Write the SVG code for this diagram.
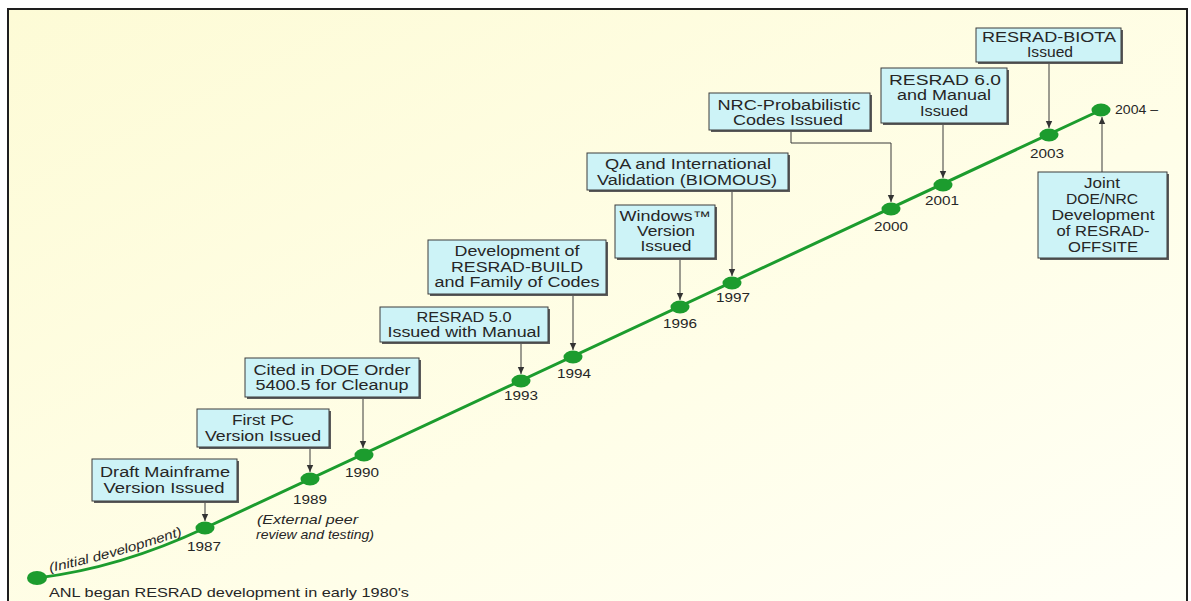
<svg xmlns="http://www.w3.org/2000/svg" width="1191" height="601" viewBox="0 0 1191 601">
<defs>
<linearGradient id="bg" x1="0" y1="0" x2="1" y2="1">
<stop offset="0" stop-color="#fdfbd6"/>
<stop offset="0.6" stop-color="#fffee8"/>
<stop offset="1" stop-color="#fffff6"/>
</linearGradient>
<marker id="arr" markerUnits="userSpaceOnUse" markerWidth="8" markerHeight="8" refX="7" refY="4" orient="auto">
<path d="M0,0.8 L7,4 L0,7.2 Z" fill="#333"/>
</marker>
<style>
.box{fill:#cdf3f7;stroke:#3c3c3c;stroke-width:1}
.sh{fill:#5a5a5a}
.t{font-family:"Liberation Sans",Arial,sans-serif;font-size:14px;fill:#262626;text-anchor:middle}
.y{font-family:"Liberation Sans",Arial,sans-serif;font-size:13px;fill:#262626;text-anchor:middle}
.it{font-family:"Liberation Sans",Arial,sans-serif;font-size:13px;font-style:italic;fill:#262626}
.c{fill:none;stroke:#3a3a3a;stroke-width:1;marker-end:url(#arr)}
.dot{fill:#1c9c2e}
</style>
</defs>
<rect x="0" y="0" width="1191" height="601" fill="#ffffff"/>
<rect x="8" y="9" width="1179" height="592" fill="url(#bg)"/>
<path d="M8,601 V9 H1187 V601" fill="none" stroke="#1e1e1e" stroke-width="2"/>

<g id="timeline">
<path id="tl" d="M37,578 Q120,568 205,528 L1101,110" fill="none" stroke="#1c9c2e" stroke-width="3"/>
<path id="initPath" d="M50,572 Q110,560 186,534" fill="none"/>
<text class="it"><textPath href="#initPath" textLength="138" lengthAdjust="spacingAndGlyphs">(Initial development)</textPath></text>
<text class="it" x="49" y="597" style="font-style:normal;font-size:13.5px" textLength="360" lengthAdjust="spacingAndGlyphs">ANL began RESRAD development in early 1980's</text>
<text class="it" x="257" y="524" textLength="101" lengthAdjust="spacingAndGlyphs">(External peer</text>
<text class="it" x="256" y="539" textLength="118" lengthAdjust="spacingAndGlyphs">review and testing)</text>
</g>

<g id="connectors">
<line class="c" x1="205" y1="501" x2="205" y2="521"/>
<line class="c" x1="310" y1="447" x2="310" y2="472"/>
<line class="c" x1="363" y1="397" x2="363" y2="448"/>
<line class="c" x1="521" y1="342" x2="521" y2="374"/>
<line class="c" x1="573" y1="294" x2="573" y2="350"/>
<line class="c" x1="680" y1="258" x2="680" y2="300"/>
<line class="c" x1="732" y1="190" x2="732" y2="276"/>
<path class="c" d="M791,130 V143 H891 V202"/>
<line class="c" x1="943" y1="123" x2="943" y2="178"/>
<line class="c" x1="1049" y1="62" x2="1049" y2="128"/>
<line class="c" x1="1102" y1="172" x2="1102" y2="117"/>
</g>

<g id="dot-start"><ellipse class="dot" cx="37" cy="578" rx="10" ry="7"/></g>
<g id="year-1987"><ellipse class="dot" cx="205" cy="528" rx="9.5" ry="6.5"/><text class="y" x="204" y="551" textLength="34" lengthAdjust="spacingAndGlyphs">1987</text></g>
<g id="year-1989"><ellipse class="dot" cx="310" cy="479" rx="9.5" ry="6.5"/><text class="y" x="310" y="504" textLength="34" lengthAdjust="spacingAndGlyphs">1989</text></g>
<g id="year-1990"><ellipse class="dot" cx="364" cy="455" rx="9.5" ry="6.5"/><text class="y" x="362" y="477" textLength="34" lengthAdjust="spacingAndGlyphs">1990</text></g>
<g id="year-1993"><ellipse class="dot" cx="521" cy="381" rx="9.5" ry="6.5"/><text class="y" x="521" y="400" textLength="34" lengthAdjust="spacingAndGlyphs">1993</text></g>
<g id="year-1994"><ellipse class="dot" cx="573" cy="357" rx="9.5" ry="6.5"/><text class="y" x="574" y="378" textLength="34" lengthAdjust="spacingAndGlyphs">1994</text></g>
<g id="year-1996"><ellipse class="dot" cx="680" cy="307" rx="9.5" ry="6.5"/><text class="y" x="680" y="328" textLength="34" lengthAdjust="spacingAndGlyphs">1996</text></g>
<g id="year-1997"><ellipse class="dot" cx="732" cy="283" rx="9.5" ry="6.5"/><text class="y" x="733" y="302" textLength="34" lengthAdjust="spacingAndGlyphs">1997</text></g>
<g id="year-2000"><ellipse class="dot" cx="891" cy="209" rx="9.5" ry="6.5"/><text class="y" x="891" y="231" textLength="34" lengthAdjust="spacingAndGlyphs">2000</text></g>
<g id="year-2001"><ellipse class="dot" cx="943" cy="185" rx="9.5" ry="6.5"/><text class="y" x="942" y="205" textLength="34" lengthAdjust="spacingAndGlyphs">2001</text></g>
<g id="year-2003"><ellipse class="dot" cx="1049" cy="135" rx="9.5" ry="6.5"/><text class="y" x="1047" y="158" textLength="34" lengthAdjust="spacingAndGlyphs">2003</text></g>
<g id="year-2004"><ellipse class="dot" cx="1101" cy="110" rx="9.5" ry="6.5"/><text class="y" x="1115" y="114" style="text-anchor:start" textLength="43" lengthAdjust="spacingAndGlyphs">2004 –</text></g>

<g id="node-draft">
<rect class="sh" x="94" y="461" width="145" height="42"/>
<rect class="box" x="92" y="459" width="145" height="42"/>
<text class="t" x="165" y="477" textLength="130" lengthAdjust="spacingAndGlyphs">Draft Mainframe</text>
<text class="t" x="164" y="493" textLength="121" lengthAdjust="spacingAndGlyphs">Version Issued</text>
</g>
<g id="node-firstpc">
<rect class="sh" x="199" y="411" width="132" height="38"/>
<rect class="box" x="197" y="409" width="132" height="38"/>
<text class="t" x="263" y="425" textLength="62" lengthAdjust="spacingAndGlyphs">First PC</text>
<text class="t" x="263" y="441" textLength="116" lengthAdjust="spacingAndGlyphs">Version Issued</text>
</g>
<g id="node-cited">
<rect class="sh" x="247" y="360" width="174" height="39"/>
<rect class="box" x="245" y="358" width="174" height="39"/>
<text class="t" x="332" y="375" textLength="157" lengthAdjust="spacingAndGlyphs">Cited in DOE Order</text>
<text class="t" x="332" y="390" textLength="153" lengthAdjust="spacingAndGlyphs">5400.5 for Cleanup</text>
</g>
<g id="node-resrad50">
<rect class="sh" x="382" y="309" width="168" height="35"/>
<rect class="box" x="380" y="307" width="168" height="35"/>
<text class="t" x="464" y="322" textLength="95" lengthAdjust="spacingAndGlyphs">RESRAD 5.0</text>
<text class="t" x="464" y="337" textLength="153" lengthAdjust="spacingAndGlyphs">Issued with Manual</text>
</g>
<g id="node-build">
<rect class="sh" x="430" y="242" width="178" height="54"/>
<rect class="box" x="428" y="240" width="178" height="54"/>
<text class="t" x="517" y="256" textLength="125" lengthAdjust="spacingAndGlyphs">Development of</text>
<text class="t" x="517" y="272" textLength="132" lengthAdjust="spacingAndGlyphs">RESRAD-BUILD</text>
<text class="t" x="517" y="287" textLength="165" lengthAdjust="spacingAndGlyphs">and Family of Codes</text>
</g>
<g id="node-windows">
<rect class="sh" x="617" y="207" width="100" height="53"/>
<rect class="box" x="615" y="205" width="100" height="53"/>
<text class="t" x="665" y="221" textLength="91" lengthAdjust="spacingAndGlyphs">Windows™</text>
<text class="t" x="666" y="236" textLength="58" lengthAdjust="spacingAndGlyphs">Version</text>
<text class="t" x="666" y="251" textLength="51" lengthAdjust="spacingAndGlyphs">Issued</text>
</g>
<g id="node-qa">
<rect class="sh" x="589" y="155" width="201" height="37"/>
<rect class="box" x="587" y="153" width="201" height="37"/>
<text class="t" x="688" y="169" textLength="166" lengthAdjust="spacingAndGlyphs">QA and International</text>
<text class="t" x="687" y="185" textLength="180" lengthAdjust="spacingAndGlyphs">Validation (BIOMOUS)</text>
</g>
<g id="node-nrc">
<rect class="sh" x="711" y="95" width="161" height="37"/>
<rect class="box" x="709" y="93" width="161" height="37"/>
<text class="t" x="789" y="110" textLength="143" lengthAdjust="spacingAndGlyphs">NRC-Probabilistic</text>
<text class="t" x="788" y="125" textLength="110" lengthAdjust="spacingAndGlyphs">Codes Issued</text>
</g>
<g id="node-resrad60">
<rect class="sh" x="883" y="70" width="126" height="55"/>
<rect class="box" x="881" y="68" width="126" height="55"/>
<text class="t" x="945" y="85" textLength="112" lengthAdjust="spacingAndGlyphs">RESRAD 6.0</text>
<text class="t" x="944" y="100" textLength="94" lengthAdjust="spacingAndGlyphs">and Manual</text>
<text class="t" x="944" y="116" textLength="48" lengthAdjust="spacingAndGlyphs">Issued</text>
</g>
<g id="node-biota">
<rect class="sh" x="978" y="30" width="145" height="34"/>
<rect class="box" x="976" y="28" width="145" height="34"/>
<text class="t" x="1049" y="42" textLength="134" lengthAdjust="spacingAndGlyphs">RESRAD-BIOTA</text>
<text class="t" x="1050" y="57" textLength="46" lengthAdjust="spacingAndGlyphs">Issued</text>
</g>
<g id="node-joint">
<rect class="sh" x="1040" y="174" width="129" height="86"/>
<rect class="box" x="1038" y="172" width="129" height="86"/>
<text class="t" x="1102" y="188" textLength="36" lengthAdjust="spacingAndGlyphs">Joint</text>
<text class="t" x="1102" y="204" textLength="72" lengthAdjust="spacingAndGlyphs">DOE/NRC</text>
<text class="t" x="1103" y="220" textLength="103" lengthAdjust="spacingAndGlyphs">Development</text>
<text class="t" x="1103" y="236" textLength="93" lengthAdjust="spacingAndGlyphs">of RESRAD-</text>
<text class="t" x="1103" y="252" textLength="70" lengthAdjust="spacingAndGlyphs">OFFSITE</text>
</g>
</svg>
